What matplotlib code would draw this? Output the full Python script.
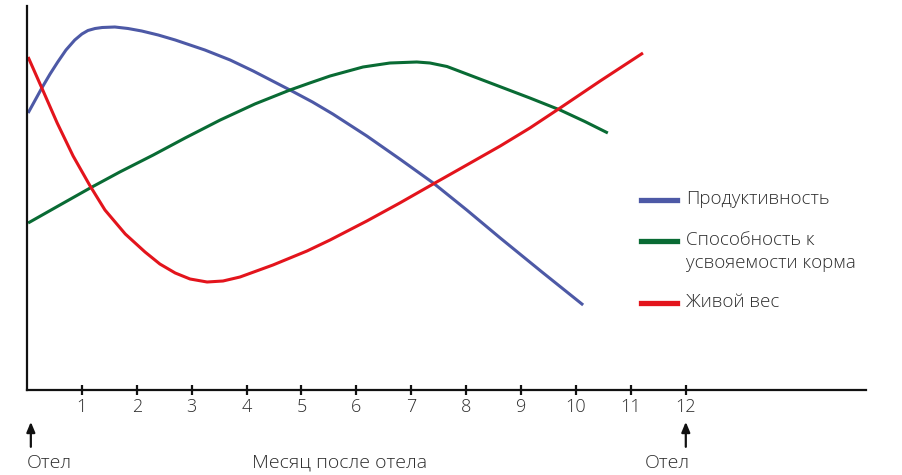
import matplotlib
matplotlib.use("Agg")
import matplotlib.pyplot as plt
from matplotlib.lines import Line2D

# Font close to the light sans of the original
plt.rcParams['font.family'] = ['Open Sans', 'DejaVu Sans']

# Months after calving (x) and relative level (y)
months_prod = [0.02, 0.15, 0.27, 0.42, 0.56, 0.71, 0.87, 1.0, 1.11, 1.24,
               1.37, 1.6, 1.84, 2.09, 2.39, 2.7, 2.97, 3.24, 3.7, 4.12,
               4.79, 5.2, 5.57, 6.19, 6.79, 7.4, 8.01, 8.62, 9.38, 10.13]
prod = [277, 290, 302, 316, 328, 340, 350, 356, 359.5, 361.5,
        362.5, 363, 361.5, 359, 355, 350, 345, 340, 330, 319,
        300, 288, 276, 254, 231, 207, 180, 152, 118, 85]

months_feed = [0.02, 0.6, 1.15, 1.69, 2.3, 2.88, 3.52, 4.15, 4.79, 5.15,
               5.52, 6.12, 6.61, 7.1, 7.34, 7.65, 8.25, 9.16, 9.71, 10.16, 10.58]
feed = [167, 185, 202, 218, 235, 252, 270, 286, 300, 307,
        314, 323, 327, 328, 327, 323.5, 311, 292, 280, 268.5, 257]

months_weight = [0.02, 0.27, 0.55, 0.84, 1.15, 1.42, 1.79, 2.15, 2.42, 2.7,
                 2.97, 3.28, 3.57, 3.88, 4.48, 5.1, 5.52, 6.19, 6.79, 7.43,
                 8.01, 8.62, 9.16, 9.71, 10.44, 11.22]
weight = [333, 302, 267, 234, 204, 180, 156, 138, 126, 117,
          111, 108, 109, 113, 125, 139, 150, 169, 187, 207,
          225, 244, 262, 282, 309, 337]

series = [
    ("Продуктивность", months_prod, prod, "#4d59a6"),
    ("Способность к\nусвояемости корма", months_feed, feed, "#096b34"),
    ("Живой вес", months_weight, weight, "#e3141c"),
]

tick_months = list(range(1, 13))
tick_labels = [str(m) for m in tick_months]

text_color = "#2e2e2e"

fig = plt.figure(figsize=(9.03, 4.75), dpi=100)
ax = fig.add_axes([27 / 903, 85 / 475, 839 / 903, 384 / 475])

for label, xs, ys, color in series:
    ax.plot(xs, ys, color=color, lw=2.2, solid_capstyle='butt',
            solid_joinstyle='round')

ax.set_xlim(0, 839 / 54.9)
ax.set_ylim(0, 384)

for side in ['top', 'right']:
    ax.spines[side].set_visible(False)
for side in ['left', 'bottom']:
    ax.spines[side].set_linewidth(1.6)
    ax.spines[side].set_color("#111111")

ax.set_yticks([])
ax.set_xticks(tick_months)
ax.set_xticklabels(tick_labels, fontweight='light')
ax.tick_params(axis='x', direction='inout', length=7, width=1.6,
               color="#111111", pad=2, labelsize=13, labelcolor=text_color)

# Calving arrows under month 0 and month 12
trans = ax.get_xaxis_transform()
for xm in [0.07, 12]:
    ax.annotate("", xy=(xm, -0.083), xytext=(xm, -0.148), xycoords=trans,
                textcoords=trans,
                arrowprops=dict(arrowstyle="-|>,head_length=0.6,head_width=0.25",
                                color="#111111", lw=1.6, shrinkA=0, shrinkB=0))
ax.text(0, -0.19, "Отел", transform=trans, ha='left', va='center',
        fontsize=14, color=text_color, fontweight='light')
ax.text(12.08, -0.19, "Отел", transform=trans, ha='right', va='center',
        fontsize=14, color=text_color, fontweight='light')
ax.text(5.7, -0.19, "Месяц после отела", transform=trans, ha='center',
        va='center', fontsize=14, color=text_color, fontweight='light')

# Hand-placed legend on the right
legend_y = [200, 241, 303]
for (label, xs, ys, color), yp in zip(series, legend_y):
    fy = 1 - yp / 475
    fig.add_artist(Line2D([641 / 903, 677 / 903], [fy, fy], color=color, lw=3.8))
    if "\n" in label:
        fig.text(686 / 903, 1 - 231 / 475, label, ha='left', va='top',
                 fontsize=13.5, color=text_color, linespacing=1.35,
                 fontweight='light')
    else:
        fig.text(686 / 903, fy + 0.003, label, ha='left', va='center',
                 fontsize=13.5, color=text_color, fontweight='light')

fig.savefig("out.png", dpi=100)
